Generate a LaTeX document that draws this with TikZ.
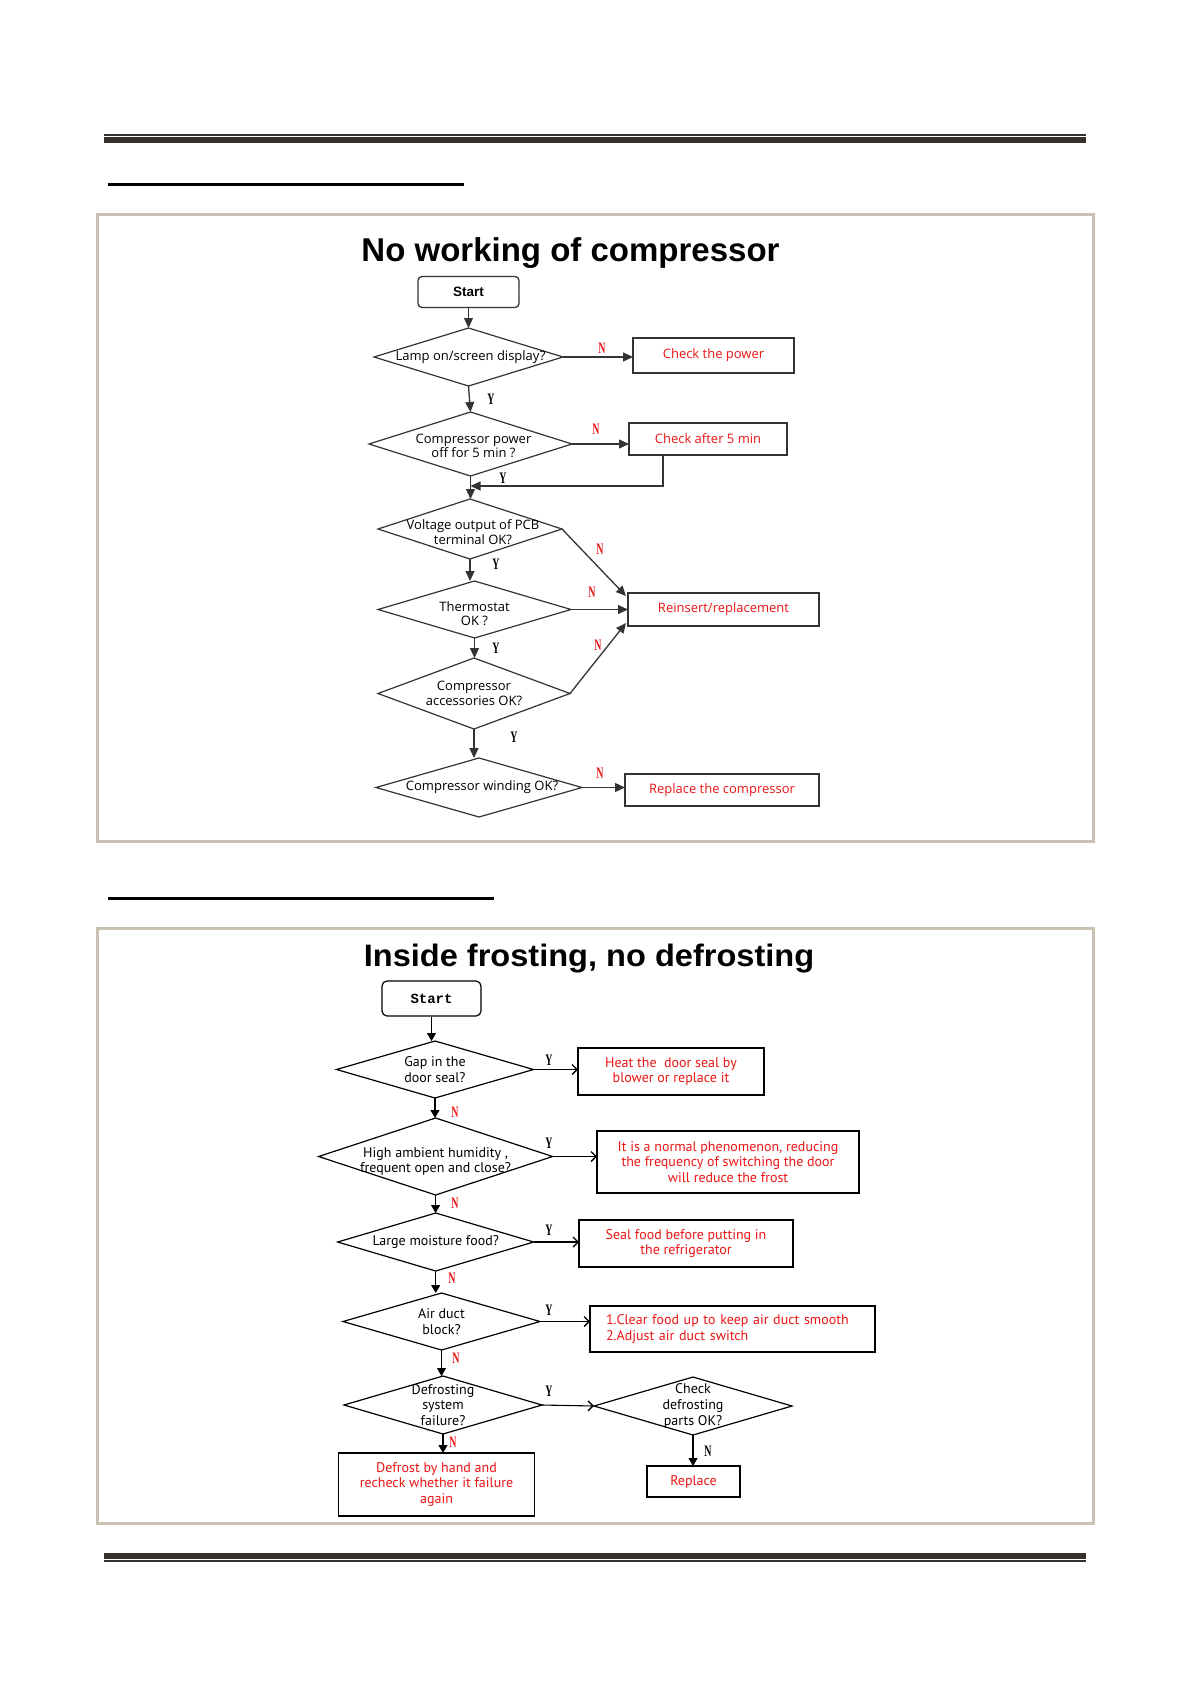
\documentclass[tikz,border=0pt]{standalone}
\usepackage{fontspec}
\setmainfont{Open Sans}
\newfontfamily\ofont{Open Sans}
\newfontfamily\pfont{PT Sans}
\newfontfamily\lsfont{Liberation Sans}
\newfontfamily\ttwofont[FakeStretch=1.05]{Liberation Sans}
\newfontfamily\ynfont[FakeStretch=0.62]{Liberation Serif}
\newfontfamily\monofont{Liberation Mono}
\usetikzlibrary{shapes.geometric,arrows.meta}
\definecolor{framec}{HTML}{C9C1B1}
\definecolor{hdr}{HTML}{38302C}
\definecolor{redtxt}{HTML}{EE1515}
\definecolor{lnc}{HTML}{333333}
\tikzset{
  dia/.style={diamond, draw=lnc, line width=1.2pt, inner sep=0pt, outer sep=0pt},
  c1lab/.style={font=\ofont\fontsize{13}{14.5}\selectfont, align=center, inner sep=0pt},
  c2lab/.style={font=\pfont\fontsize{14}{15.8}\selectfont, align=center, inner sep=0pt},
  c1box/.style={draw=lnc, line width=1.3pt, inner sep=0pt, outer sep=0pt, text=redtxt,
    font=\ofont\fontsize{13}{14.5}\selectfont, align=center},
  c2box/.style={draw=black, line width=1.2pt, inner sep=0pt, outer sep=0pt, text=redtxt,
    font=\pfont\fontsize{14}{15.8}\selectfont, align=center},
  c1arr/.style={draw=lnc, line width=1.3pt, -{Triangle[length=10pt,width=9pt]}},
  c2down/.style={draw=black, line width=1.2pt, -{Triangle[length=8pt,width=9pt]}},
  c2side/.style={draw=black, line width=1.1pt, -{Straight Barb[length=5pt,width=10pt,line width=1.4pt]}},
  nlab/.style={font=\ynfont\bfseries\fontsize{16}{16}\selectfont, text=redtxt, inner sep=0pt},
  ylab/.style={font=\ynfont\bfseries\fontsize{16}{16}\selectfont, text=black, inner sep=0pt},
}
\begin{document}
\begin{tikzpicture}[x=1pt,y=-1pt]
\useasboundingbox (0,0) rectangle (1191,1684);
\fill[white] (0,0) rectangle (1191,1684);
% header / footer rules
\fill[hdr] (104,134) rectangle (1086,135.7);
\fill[hdr] (104,137) rectangle (1086,142.7);
\fill[hdr] (104,1552.7) rectangle (1086,1559);
\fill[hdr] (104,1560.2) rectangle (1086,1561.9);
% short rules
\fill[black] (108,182.7) rectangle (464,185.7);
\fill[black] (108,896.7) rectangle (494,899.5);
% frames
\draw[framec, line width=3pt] (97,214) rectangle (1093,841);
\draw[framec, line width=3pt] (97,928) rectangle (1093,1523);

% ================= Chart 1 =================
\node[font=\lsfont\bfseries\fontsize{33}{33}\selectfont, inner sep=0pt, anchor=base] (t1) at (570.5,261) {No working of compressor};
\node[draw=lnc, line width=1.3pt, rounded corners=4pt, minimum width=101pt, minimum height=31pt, inner sep=0pt,
  font=\lsfont\bfseries\fontsize{13.5}{14}\selectfont] (c1s) at (468.5,292) {Start};

\node[dia, minimum width=189pt, minimum height=58pt, label={[c1lab, xshift=2pt]center:Lamp on/screen display?}] (c1d1) at (468.5,357) {};
\node[c1box, minimum width=161pt, minimum height=35pt] (c1b1) at (713.5,355.5) {Check the power};

\node[dia, minimum width=203pt, minimum height=64pt, label={[c1lab, yshift=-2pt, xshift=3pt]center:{Compressor power\\off for 5 min ?}}] (c1d2) at (470.5,444) {};
\node[c1box, minimum width=158pt, minimum height=32pt] (c1b2) at (708,439) {Check after 5 min};

\node[dia, minimum width=184pt, minimum height=60pt, label={[c1lab, yshift=-3pt, xshift=3pt]center:{Voltage output of PCB\\terminal OK?}}] (c1d3) at (470,529) {};
\node[c1box, minimum width=191pt, minimum height=33pt] (c1b3) at (723.5,609.5) {Reinsert/replacement};

\node[dia, minimum width=193pt, minimum height=57pt, label={[c1lab, yshift=-4pt]center:{Thermostat\\OK ?}}] (c1d4) at (474.5,609.5) {};
\node[dia, minimum width=192pt, minimum height=71pt, label={[c1lab]center:{Compressor\\accessories OK?}}] (c1d5) at (474,693.5) {};
\node[dia, minimum width=206pt, minimum height=59pt, label={[c1lab, xshift=3pt]center:{Compressor winding OK?}}] (c1d6) at (479,787.5) {};
\node[c1box, minimum width=194pt, minimum height=32pt] (c1b4) at (722,790) {Replace the compressor};

\coordinate (c1loop) at (663,455);
\coordinate (c1jy) at (0,486);

\draw[c1arr] (c1s.south) -- (c1d1.north);
\draw[c1arr] (c1d1.east) -- (c1d1.east -| c1b1.west);
\draw[c1arr] (c1d1.south) -- (c1d2.north);
\draw[c1arr] (c1d2.east) -- (c1d2.east -| c1b2.west);
\draw[c1arr] (c1loop) |- (c1d2.south |- c1jy);
\draw[c1arr] (c1d2.south) -- (c1d2.south |- c1d3.north);
\draw[c1arr] (c1d3.east) -- ([shift={(-2pt,-3pt)}]c1b3.north west);
\draw[c1arr] (c1d3.south) -- (c1d3.south |- c1d4.north);
\draw[c1arr] (c1d4.east) -- (c1d4.east -| c1b3.west);
\draw[c1arr] (c1d4.south) -- (c1d4.south |- c1d5.north);
\draw[c1arr] (c1d5.east) -- ([shift={(-2pt,3pt)}]c1b3.south west);
\draw[c1arr] (c1d5.south) -- (c1d5.south |- c1d6.north);
\draw[c1arr] (c1d6.east) -- (c1d6.east -| c1b4.west);

\node[nlab] (c1n1) at (602,348) {N};
\node[ylab] (c1y1) at (491,399) {Y};
\node[nlab] (c1n2) at (596,429) {N};
\node[ylab] (c1y2) at (503,478) {Y};
\node[nlab] (c1n3) at (600,549) {N};
\node[ylab] (c1y3) at (496,564) {Y};
\node[nlab] (c1n4) at (592,592) {N};
\node[ylab] (c1y4) at (496,648) {Y};
\node[nlab] (c1n5) at (598,645) {N};
\node[ylab] (c1y5) at (514,737) {Y};
\node[nlab] (c1n6) at (600,773) {N};

% ================= Chart 2 =================
\node[font=\ttwofont\bfseries\fontsize{31}{31}\selectfont, inner sep=0pt, anchor=base] (t2) at (589,966) {Inside frosting, no defrosting};
\node[draw=black, line width=1.2pt, rounded corners=5pt, minimum width=99pt, minimum height=35pt, inner sep=0pt,
  font=\monofont\bfseries\fontsize{14}{14}\selectfont] (c2s) at (431.5,998.5) {Start};

\node[dia, draw=black, minimum width=197pt, minimum height=57pt, label={[c2lab]center:{Gap in the\\door seal?}}] (c2d1) at (435,1069.5) {};
\node[c2box, minimum width=186pt, minimum height=47pt] (c2b1) at (671,1071.5) {Heat the\ \ door seal by\\blower or replace it};

\node[dia, draw=black, minimum width=234pt, minimum height=77pt, label={[c2lab, yshift=-5pt]center:{High ambient humidity ,\\frequent open and close?}}] (c2d2) at (435.6,1156.5) {};
\node[c2box, minimum width=262pt, minimum height=62pt] (c2b2) at (728,1162) {It is a normal phenomenon, reducing\\the frequency of switching the door\\will reduce the frost};

\node[dia, draw=black, minimum width=196pt, minimum height=58pt, label={[c2lab]center:{Large moisture food?}}] (c2d3) at (435.7,1242) {};
\node[c2box, minimum width=214pt, minimum height=47pt] (c2b3) at (686,1243.5) {Seal food before putting in\\the refrigerator};

\node[dia, draw=black, minimum width=197pt, minimum height=57pt, label={[c2lab]center:{Air duct\\block?}}] (c2d4) at (441.5,1321.5) {};
\node[c2box, minimum width=285pt, minimum height=46pt, align=left, text width=253pt] (c2b4) at (732.5,1329) {1.Clear food up to keep air duct smooth\\2.Adjust air duct switch};

\node[dia, draw=black, minimum width=198pt, minimum height=58pt, label={[c2lab]center:{Defrosting\\system\\failure?}}] (c2d5) at (443,1405) {};
\node[dia, draw=black, minimum width=198pt, minimum height=58pt, label={[c2lab]center:{Check\\defrosting\\parts OK?}}] (c2d6) at (693,1406) {};
\node[c2box, minimum width=196pt, minimum height=63pt] (c2b5) at (436.5,1484.5) {Defrost by hand and\\recheck whether it failure\\again};
\node[c2box, minimum width=93pt, minimum height=31pt] (c2b6) at (693.5,1481.5) {Replace};

\draw[c2down] (c2s.south) -- (c2s.south |- c2d1.north);
\draw[c2side] (c2d1.east) -- (c2d1.east -| c2b1.west);
\draw[c2down] (c2d1.south) -- (c2d1.south |- c2d2.north);
\draw[c2side] (c2d2.east) -- (c2d2.east -| c2b2.west);
\draw[c2down] (c2d2.south) -- (c2d2.south |- c2d3.north);
\draw[c2side] (c2d3.east) -- (c2d3.east -| c2b3.west);
\draw[c2down] (c2d3.south) -- (c2d3.south |- c2d4.north);
\draw[c2side] (c2d4.east) -- (c2d4.east -| c2b4.west);
\draw[c2down] (c2d4.south) -- (c2d4.south |- c2d5.north);
\draw[c2side] (c2d5.east) -- (c2d6.west);
\draw[c2down] (c2d5.south) -- (c2d5.south |- c2b5.north);
\draw[c2down] (c2d6.south) -- (c2d6.south |- c2b6.north);

\node[ylab] (c2y1) at (549,1060) {Y};
\node[nlab] (c2n1) at (455,1112) {N};
\node[ylab] (c2y2) at (549,1143) {Y};
\node[nlab] (c2n2) at (455,1203) {N};
\node[ylab] (c2y3) at (549,1230) {Y};
\node[nlab] (c2n3) at (452,1278) {N};
\node[ylab] (c2y4) at (549,1310) {Y};
\node[nlab] (c2n4) at (456,1358) {N};
\node[ylab] (c2y5) at (549,1391) {Y};
\node[nlab] (c2n5) at (453,1442) {N};
\node[ylab] (c2n6) at (708,1451) {N};
\end{tikzpicture}
\end{document}
